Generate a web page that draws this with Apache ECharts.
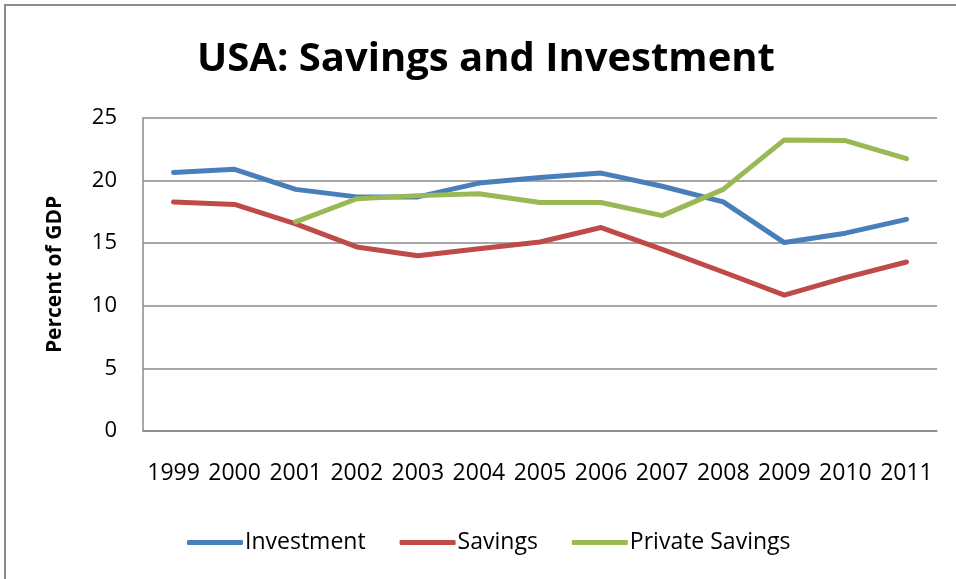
<!DOCTYPE html>
<html>
<head>
<meta charset="utf-8">
<title>USA: Savings and Investment</title>
<script src="https://cdn.jsdelivr.net/npm/echarts@6/dist/echarts.min.js"></script>
<style>
  html, body { margin: 0; padding: 0; background: #ffffff; }
  #chart { width: 956px; height: 579px; }
</style>
</head>
<body>
<div id="chart"></div>
<script>
// Years on the category axis
const years = ['1999', '2000', '2001', '2002', '2003', '2004', '2005', '2006', '2007', '2008', '2009', '2010', '2011'];

// Percent of GDP
const investment = [20.65, 20.9, 19.3, 18.7, 18.7, 19.8, 20.25, 20.6, 19.55, 18.3, 15.05, 15.8, 16.9];
const savings = [18.3, 18.1, 16.55, 14.7, 14.0, 14.55, 15.1, 16.25, 14.5, 12.7, 10.85, 12.25, 13.5];
const privateSavings = [null, null, 16.7, 18.55, 18.8, 18.95, 18.25, 18.25, 17.2, 19.3, 23.25, 23.2, 21.75];

// Value axis ticks
const yMin = 0;
const yMax = 25;
const yStep = 5;

const FONT = "'Open Sans', 'Noto Sans', sans-serif";
const GRID_GRAY = '#8a8a8a';

const chart = echarts.init(document.getElementById('chart'), null, { renderer: 'canvas' });

function lineSeries(name, data, color) {
  return {
    name: name,
    type: 'line',
    data: data,
    symbol: 'none',
    connectNulls: false,
    lineStyle: { color: color, width: 5, cap: 'round', join: 'round' },
    itemStyle: { color: color }
  };
}

chart.setOption({
  animation: false,
  backgroundColor: '#ffffff',
  title: {
    text: 'USA: Savings and Investment',
    left: 481,
    top: 35,
    textAlign: 'center',
    textStyle: { fontFamily: FONT, fontWeight: 'bold', fontSize: 40, color: '#000000' }
  },
  legend: {
    left: 182,
    top: 526,
    icon: 'roundRect',
    itemWidth: 56,
    itemHeight: 5,
    itemGap: 34,
    textStyle: { fontFamily: FONT, fontSize: 23, color: '#000000', padding: [0, 0, 0, -3] },
    data: ['Investment', 'Savings', 'Private Savings']
  },
  grid: { left: 143, right: 19, top: 118, bottom: 148, containLabel: false },
  xAxis: {
    type: 'category',
    data: years,
    boundaryGap: true,
    axisLine: { lineStyle: { color: GRID_GRAY, width: 1.5 } },
    axisTick: { show: false },
    axisLabel: { fontFamily: FONT, fontSize: 23, color: '#000000', margin: 31, interval: 0 }
  },
  yAxis: {
    type: 'value',
    min: yMin,
    max: yMax,
    interval: yStep,
    name: 'Percent of GDP',
    nameLocation: 'middle',
    nameGap: 77,
    nameRotate: 90,
    nameTextStyle: { fontFamily: FONT, fontWeight: 'bold', fontSize: 21, color: '#000000' },
    axisLine: { show: true, lineStyle: { color: GRID_GRAY, width: 1.5 } },
    axisTick: { show: false },
    splitLine: { lineStyle: { color: GRID_GRAY, width: 1.5 } },
    axisLabel: { fontFamily: FONT, fontSize: 22, color: '#000000', margin: 26 }
  },
  graphic: [
    {
      type: 'rect',
      shape: { x: 5, y: 5, width: 1000, height: 700 },
      style: { fill: 'none', stroke: '#8c8c8c', lineWidth: 2 },
      silent: true
    }
  ],
  series: [
    lineSeries('Investment', investment, '#4a7ebb'),
    lineSeries('Savings', savings, '#be4b48'),
    lineSeries('Private Savings', privateSavings, '#98b954')
  ]
});
</script>
</body>
</html>
